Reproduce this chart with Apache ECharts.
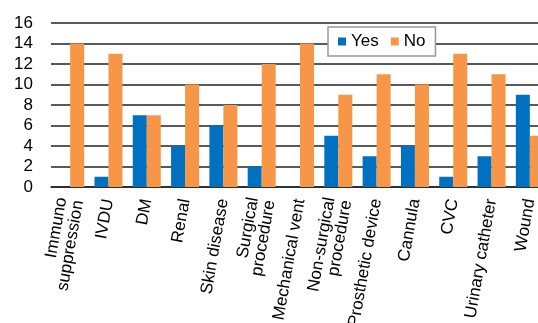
<!DOCTYPE html>
<html>
<head>
<meta charset="utf-8">
<script src="https://cdn.jsdelivr.net/npm/echarts@6/dist/echarts.min.js"></script>
<style>
html,body{margin:0;padding:0;background:#fff;}
#c{width:538px;height:323px;}
</style>
</head>
<body>
<div id="c"></div>
<script>
var categories = ['Immuno\nsuppression','IVDU','DM','Renal','Skin disease','Surgical\nprocedure','Mechanical vent','Non-surgical\nprocedure','Prosthetic device','Cannula','CVC','Urinary catheter','Wound'];
var yesValues = [0,1,7,4,6,2,0,5,3,4,1,3,9];
var noValues = [14,13,7,10,8,12,14,9,11,10,13,11,5];
var yTicks = {min:0, max:16, interval:2};

var chart = echarts.init(document.getElementById('c'), null, {renderer:'canvas'});
var font = '"Liberation Sans", Arial, sans-serif';
chart.setOption({
  animation:false,
  backgroundColor:'#fff',
  textStyle:{fontFamily:font},
  grid:{left:51,right:-11,top:23,bottom:136,containLabel:false,outerBoundsMode:'none'},
  legend:{
    data:['Yes','No'],
    left:328, top:27,
    itemWidth:8, itemHeight:8, itemGap:12,
    padding:[6,10],
    backgroundColor:'#fff',
    borderColor:'#999', borderWidth:1.5,
    textStyle:{fontSize:17,color:'#000',fontFamily:font},
    icon:'rect'
  },
  xAxis:{
    type:'category',
    data:categories,
    axisLine:{lineStyle:{color:'#222',width:1.5}},
    axisTick:{show:false},
    axisLabel:{interval:0,rotate:80,fontSize:17,color:'#000',margin:12,fontFamily:font,lineHeight:17}
  },
  yAxis:{
    type:'value',
    min:yTicks.min,max:yTicks.max,interval:yTicks.interval,
    axisLine:{show:false},
    axisTick:{show:false},
    axisLabel:{fontSize:17,color:'#000',margin:18,fontFamily:font},
    splitLine:{lineStyle:{color:'#222',width:1.5}}
  },
  series:[
    {name:'Yes',type:'bar',data:yesValues,barWidth:14,barGap:'0%',itemStyle:{color:'#0070C0'}},
    {name:'No',type:'bar',data:noValues,barWidth:14,barGap:'0%',itemStyle:{color:'#F79646'}}
  ]
});
</script>
</body>
</html>
